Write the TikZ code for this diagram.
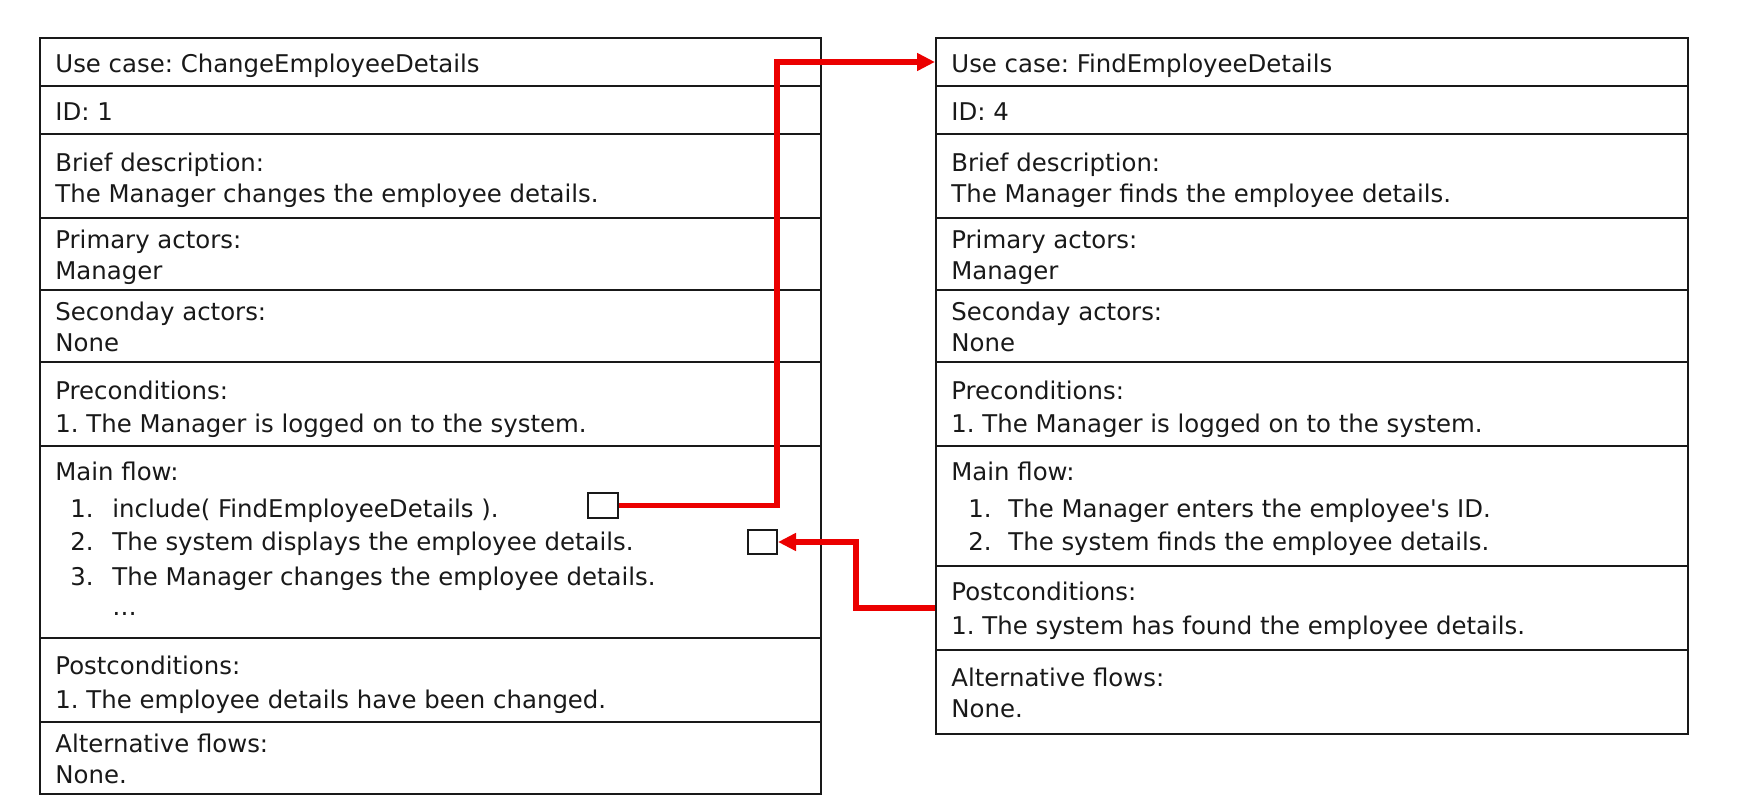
\documentclass[tikz,border=0pt]{standalone}
\usepackage{fontspec}
\setmainfont{DejaVu Sans}
\usetikzlibrary{fit,arrows.meta}
\definecolor{lnred}{RGB}{235,0,0}
\definecolor{ink}{RGB}{25,25,25}
\frenchspacing
\begin{document}
\begin{tikzpicture}[x=0.5pt,y=-0.5pt,
  rowbox/.style={draw=ink, line width=1pt, inner sep=0pt},
  txt/.style={anchor=base west, inner sep=0pt, font=\fontsize{12.2pt}{14pt}\selectfont\frenchspacing, text=ink},
  link/.style={draw=lnred, line width=2.8pt, -{Triangle[length=9pt,width=8.5pt]}}
]
\fill[white] (0,0) rectangle (1757,807);
\useasboundingbox (0,0) rectangle (1757,807);
% left table rows
\node[rowbox, fit={(40,38)(821,86)}]   (l1) {};
\node[rowbox, fit={(40,86)(821,134)}]  (l2) {};
\node[rowbox, fit={(40,134)(821,218)}] (l3) {};
\node[rowbox, fit={(40,218)(821,290)}] (l4) {};
\node[rowbox, fit={(40,290)(821,362)}] (l5) {};
\node[rowbox, fit={(40,362)(821,446)}] (l6) {};
\node[rowbox, fit={(40,446)(821,638)}] (l7) {};
\node[rowbox, fit={(40,638)(821,722)}] (l8) {};
\node[rowbox, fit={(40,722)(821,794)}] (l9) {};
% right table rows
\node[rowbox, fit={(936,38)(1688,86)}]   (r1) {};
\node[rowbox, fit={(936,86)(1688,134)}]  (r2) {};
\node[rowbox, fit={(936,134)(1688,218)}] (r3) {};
\node[rowbox, fit={(936,218)(1688,290)}] (r4) {};
\node[rowbox, fit={(936,290)(1688,362)}] (r5) {};
\node[rowbox, fit={(936,362)(1688,446)}] (r6) {};
\node[rowbox, fit={(936,446)(1688,566)}] (r7) {};
\node[rowbox, fit={(936,566)(1688,650)}] (r8) {};
\node[rowbox, fit={(936,650)(1688,734)}] (r9) {};
% left texts
\node[txt] (lt1) at (55,73) {Use case: ChangeEmployeeDetails};
\node[txt] (lt2) at (55,121) {ID: 1};
\node[txt] (lt3) at (55,171.5) {Brief description:};
\node[txt] (lt4) at (55,203) {The Manager changes the employee details.};
\node[txt] (lt5) at (55,249) {Primary actors:};
\node[txt] (lt6) at (55,280) {Manager};
\node[txt] (lt7) at (55,320.5) {Seconday actors:};
\node[txt] (lt8) at (55,352) {None};
\node[txt] (lt9) at (55,400) {Preconditions:};
\node[txt] (lt10) at (55,432.5) {1. The Manager is logged on to the system.};
\node[txt] (lt11) at (55,481) {Main flow:};
\node[txt] (ln1) at (70,517) {1.};
\node[txt] (li1) at (112,517) {include( FindEmployeeDetails ).};
\node[txt] (ln2) at (70,551) {2.};
\node[txt] (li2) at (112,551) {The system displays the employee details.};
\node[txt] (ln3) at (70,586) {3.};
\node[txt] (li3) at (112,586) {The Manager changes the employee details.};
\node[txt] (li4) at (112,615) {\dots};
\node[txt] (lt12) at (55,674) {Postconditions:};
\node[txt] (lt13) at (55,708) {1. The employee details have been changed.};
\node[txt] (lt14) at (55,752) {Alternative flows:};
\node[txt] (lt15) at (55,783) {None.};
% right texts
\node[txt] (rt1) at (951,73) {Use case: FindEmployeeDetails};
\node[txt] (rt2) at (951,121) {ID: 4};
\node[txt] (rt3) at (951,171.5) {Brief description:};
\node[txt] (rt4) at (951,203) {The Manager finds the employee details.};
\node[txt] (rt5) at (951,249) {Primary actors:};
\node[txt] (rt6) at (951,280) {Manager};
\node[txt] (rt7) at (951,320.5) {Seconday actors:};
\node[txt] (rt8) at (951,352) {None};
\node[txt] (rt9) at (951,400) {Preconditions:};
\node[txt] (rt10) at (951,432.5) {1. The Manager is logged on to the system.};
\node[txt] (rt11) at (951,481) {Main flow:};
\node[txt] (rn1) at (968,517) {1.};
\node[txt] (ri1) at (1008,517) {The Manager enters the employee\textquotesingle s ID.};
\node[txt] (rn2) at (968,551) {2.};
\node[txt] (ri2) at (1008,551) {The system finds the employee details.};
\node[txt] (rt12) at (951,600.5) {Postconditions:};
\node[txt] (rt13) at (951,634) {1. The system has found the employee details.};
\node[txt] (rt14) at (951,686) {Alternative flows:};
\node[txt] (rt15) at (951,717) {None.};
% small boxes
\node[rowbox, fill=white, fit={(588,493)(618,518)}] (b1) {};
\node[rowbox, fill=white, fit={(748,530)(777,554)}] (b2) {};
% connectors
\coordinate (j1) at (777,0);
\coordinate (j2) at (856,0);
\draw[link] (b1.east) -- (b1.east -| j1) |- (r1.west);
\draw[link] (r8.west) -- (r8.west -| j2) |- (b2.east);
\end{tikzpicture}
\end{document}
